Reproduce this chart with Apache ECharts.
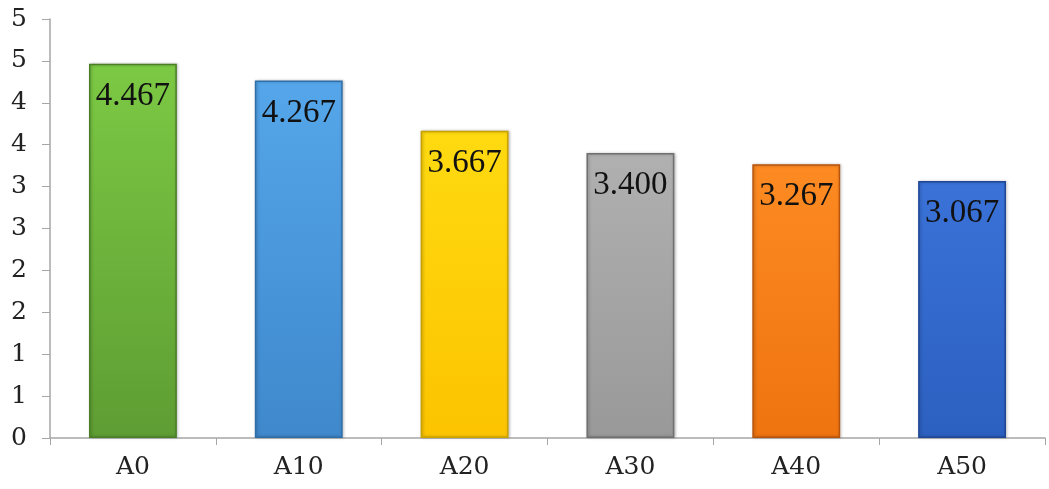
<!DOCTYPE html>
<html>
<head>
<meta charset="utf-8">
<script src="https://cdn.jsdelivr.net/npm/echarts@6/dist/echarts.min.js"></script>
<style>
  html, body { margin: 0; padding: 0; background: #fff; }
  #chart { width: 1049px; height: 489px; }
</style>
</head>
<body>
<div id="chart"></div>
<script>
var categories = ['A0', 'A10', 'A20', 'A30', 'A40', 'A50'];
var values = [4.467, 4.267, 3.667, 3.400, 3.267, 3.067];
// [top, bottom, border] per bar
var barColors = [
  ['#7cc944', '#5e9d33', '#4a7f27'],
  ['#55a6ea', '#3f88cc', '#2f6fa8'],
  ['#ffda10', '#fcc400', '#c9a200'],
  ['#b0b0b0', '#999999', '#707070'],
  ['#fd8a22', '#ef7410', '#b8540c'],
  ['#3a72d8', '#2c60c0', '#1f4796']
];

var serif = '"DejaVu Serif", "Liberation Serif", serif';
var labelFont = '"Liberation Serif", "DejaVu Serif", serif';

var chart = echarts.init(document.getElementById('chart'), null, { renderer: 'canvas' });

var data = values.map(function (v, i) {
  var c = barColors[i];
  return {
    value: v,
    itemStyle: {
      color: new echarts.graphic.LinearGradient(0, 0, 0, 1, [
        { offset: 0, color: c[0] },
        { offset: 1, color: c[1] }
      ]),
      borderColor: c[2],
      borderWidth: 1.5,
      shadowColor: 'rgba(0,0,0,0.25)',
      shadowBlur: 3,
      shadowOffsetX: 1
    }
  };
});

chart.setOption({
  animation: false,
  grid: { left: 50, right: 4, top: 19, bottom: 51 },
  xAxis: {
    type: 'category',
    data: categories,
    axisLine: { lineStyle: { color: '#a6a6a6', width: 1.5 } },
    axisTick: { show: true, length: 7, lineStyle: { color: '#a6a6a6' } },
    axisLabel: { color: '#222', fontFamily: serif, fontSize: 25, margin: 17 }
  },
  yAxis: {
    type: 'value',
    min: 0,
    max: 5,
    interval: 0.5,
    axisLine: { show: true, lineStyle: { color: '#a6a6a6', width: 1.5 } },
    axisTick: { show: true, length: 8, lineStyle: { color: '#a6a6a6' } },
    splitLine: { show: false },
    axisLabel: {
      color: '#222',
      fontFamily: serif,
      fontSize: 25,
      margin: 23,
      formatter: function (v) { return Math.round(v); }
    }
  },
  series: [{
    type: 'bar',
    data: data,
    barWidth: '53%',
    label: {
      show: true,
      position: 'insideTop',
      distance: 16,
      color: '#111',
      fontFamily: labelFont,
      fontSize: 33,
      formatter: function (p) { return p.value.toFixed(3); }
    }
  }]
});
</script>
</body>
</html>
